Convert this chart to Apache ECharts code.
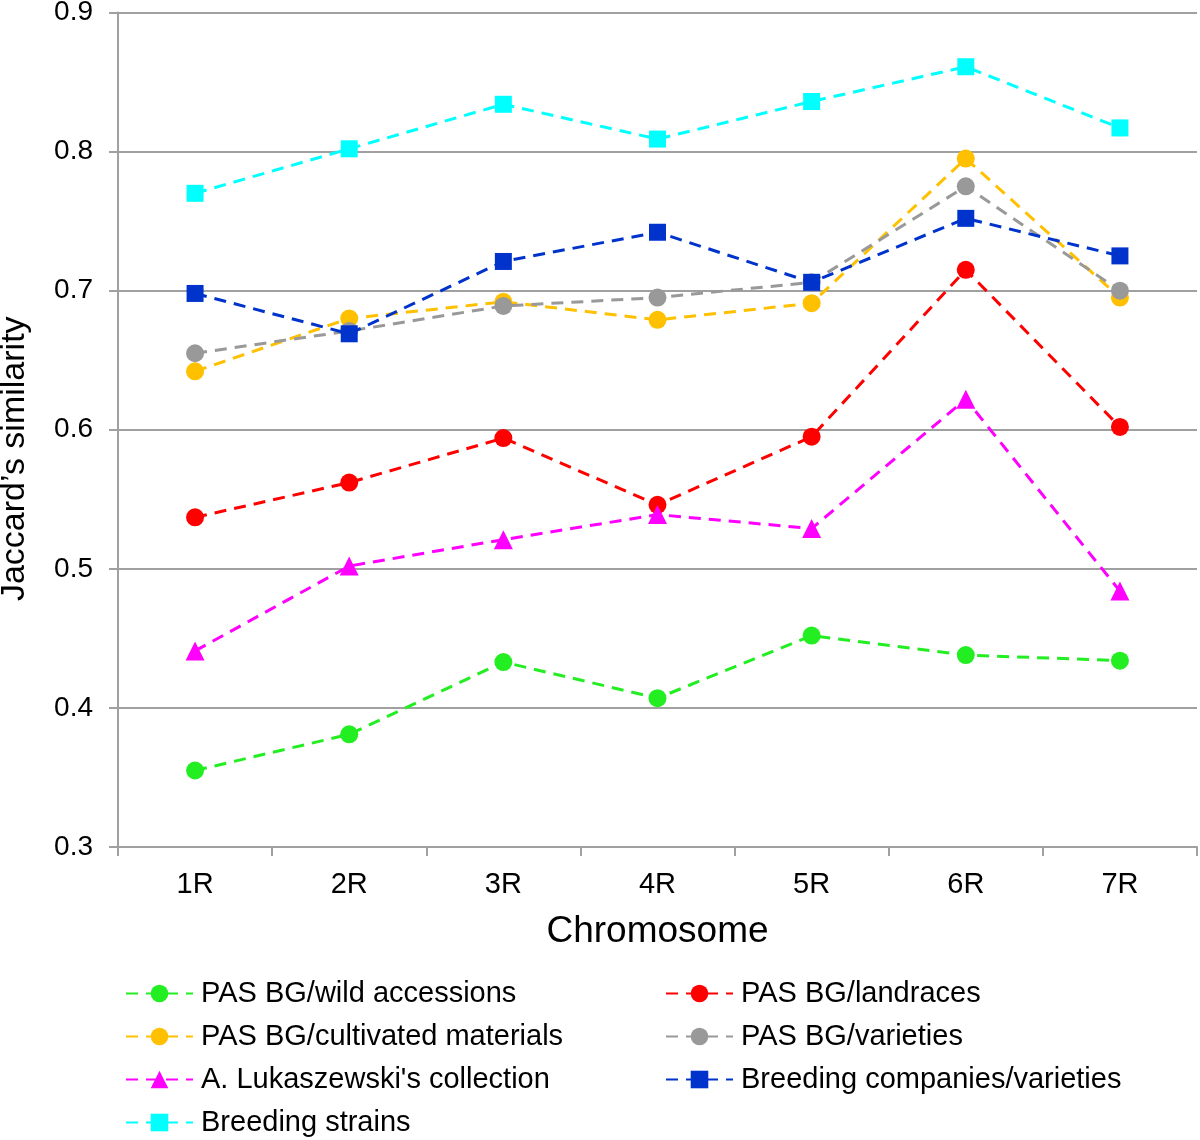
<!DOCTYPE html>
<html><head><meta charset="utf-8">
<script src="https://cdn.jsdelivr.net/npm/echarts@6/dist/echarts.min.js"></script>
<style>html,body{margin:0;padding:0;background:#fff}#c{width:1200px;height:1140px}</style>
</head><body><div id="c"></div>
<script>
const categories = ['1R','2R','3R','4R','5R','6R','7R'];
const wildAccessions = [0.355,0.381,0.433,0.407,0.452,0.438,0.434];
const landraces = [0.537,0.562,0.594,0.546,0.595,0.715,0.602];
const cultivated = [0.642,0.680,0.692,0.679,0.691,0.795,0.695];
const varieties = [0.655,0.671,0.689,0.695,0.706,0.775,0.700];
const lukaszewski = [0.441,0.502,0.521,0.539,0.529,0.622,0.484];
const breedingCompanies = [0.698,0.669,0.721,0.742,0.706,0.752,0.725];
const breedingStrains = [0.770,0.802,0.834,0.809,0.836,0.861,0.817];
const seriesNames = ['PAS BG/wild accessions','PAS BG/landraces','PAS BG/cultivated materials','PAS BG/varieties',"A. Lukaszewski's collection",'Breeding companies/varieties','Breeding strains'];
const seriesData = [wildAccessions, landraces, cultivated, varieties, lukaszewski, breedingCompanies, breedingStrains];
const colors = ['#22ee22','#ff0000','#ffc000','#999999','#ff00ff','#0033cc','#00ffff'];
const symbols = ['circle','circle','circle','circle','triangle','rect','rect'];
const symSizes = [18,18,18,18,19,17,17];

const chart = echarts.init(document.getElementById('c'));
const font = 'Liberation Sans, Arial, sans-serif';
const series = seriesNames.map((n,i)=>({
  name:n, type:'line', data:seriesData[i], symbol:symbols[i], symbolSize:symSizes[i],
  itemStyle:{color:colors[i]},
  lineStyle:{color:colors[i], width:3, type:[12,8]},
  z: 2+i
}));
// legend slots: [series index, left, top]
const legendSlots = [[0,125,979],[2,125,1022],[4,125,1065],[6,125,1108],[1,665,979],[3,665,1022],[5,665,1065]];
const legends = legendSlots.map(s=>({
  data:[seriesNames[s[0]]], left:s[1], top:s[2], padding:0,
  itemWidth:67, itemHeight:22,
  textStyle:{fontFamily:font, fontSize:29, color:'#000', lineHeight:29, padding:[0,0,0,3]}
}));
chart.setOption({
  animation:false,
  grid:{left:118, right:3, top:12.5, bottom:293, containLabel:false, outerBoundsMode:'none'},
  xAxis:{type:'category', data:categories, boundaryGap:true,
    name:'Chromosome', nameLocation:'middle', nameGap:66,
    nameTextStyle:{fontFamily:font, fontSize:37, color:'#000'},
    axisLine:{lineStyle:{color:'#a0a0a0', width:2}},
    axisTick:{show:true, length:9, lineStyle:{color:'#a0a0a0', width:2}},
    axisLabel:{fontFamily:font, fontSize:29, color:'#000', margin:23}
  },
  yAxis:{type:'value', min:0.3, max:0.9, interval:0.1,
    name:"Jaccard\u2019s similarity", nameLocation:'middle', nameGap:86, nameRotate:90,
    nameTextStyle:{fontFamily:font, fontSize:34, color:'#000', padding:[0,58,0,0]},
    axisLine:{show:true, lineStyle:{color:'#a0a0a0', width:2}},
    axisTick:{show:true, length:9, lineStyle:{color:'#a0a0a0', width:2}},
    axisLabel:{fontFamily:font, fontSize:28, color:'#000', margin:25, formatter:v=>v.toFixed(1)},
    splitLine:{lineStyle:{color:'#a0a0a0', width:2}}
  },
  legend: legends,
  series: series
});
</script></body></html>
